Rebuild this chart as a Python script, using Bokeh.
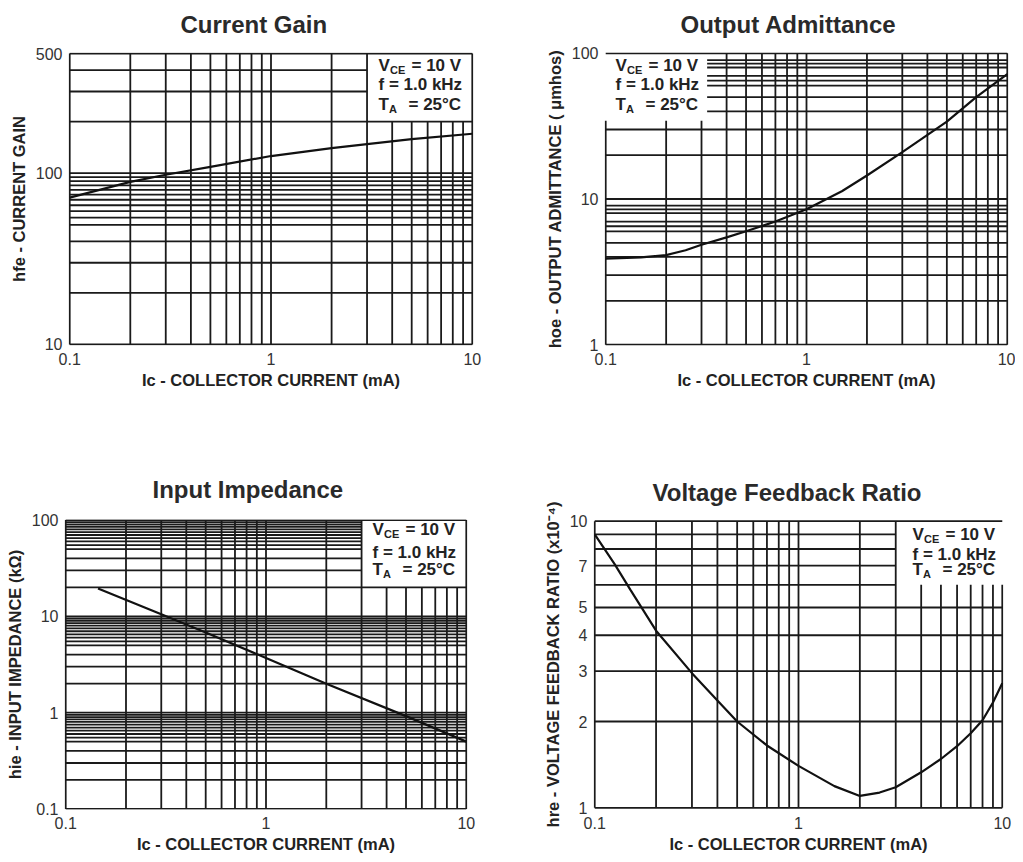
from bokeh.plotting import figure
from bokeh.models import Range1d, FixedTicker, CustomJSTickFormatter, Label, Title
from bokeh.layouts import column, row
from bokeh.embed import file_html
from bokeh.resources import INLINE

# ---------------- data ----------------
ic_ticks = [0.1, 1, 10]
ic_grid = [0.1, 0.2, 0.3, 0.4, 0.5, 0.6, 0.7, 0.8, 0.9, 1, 2, 3, 4, 5, 6, 7, 8, 9, 10]

# Current gain
gain_ic = [0.1, 0.2, 0.3, 0.5, 1, 2, 3, 5, 10]
gain_hfe = [72, 89, 98, 109, 126, 140, 148, 158, 170]
gain_ticks = [10, 100, 500]
gain_grid = [10, 20, 30, 40, 50, 55, 60, 65, 70, 75, 80, 85, 90, 95, 100, 200, 300, 400, 500]

# Output admittance
adm_ic = [0.1, 0.15, 0.2, 0.25, 0.3, 0.4, 0.5, 0.7, 1, 1.5, 2, 3, 5, 7, 10]
adm_hoe = [3.9, 3.97, 4.12, 4.45, 4.85, 5.45, 6.0, 7.0, 8.5, 11.3, 14.5, 21, 34, 50, 72]
adm_ticks = [1, 10, 100]
adm_grid = [1, 2, 3, 4, 5, 6, 6.5, 7, 8, 8.5, 9, 10, 20, 30, 40, 50, 60, 65, 70, 80, 85, 90, 100]

# Input impedance
inp_ic = [0.145, 0.3, 0.5, 1, 2, 5, 10]
inp_hie = [19.5, 10.5, 6.8, 3.7, 2.0, 0.92, 0.5]
inp_ticks = [0.1, 1, 10, 100]
inp_grid = [0.1, 0.2, 0.3, 0.4, 0.5, 0.55, 0.6, 0.65, 0.7, 0.75, 0.8, 0.85, 0.9, 0.95,
            1, 2, 3, 4, 5, 5.5, 6, 6.5, 7, 7.5, 8, 8.5, 9, 9.5,
            10, 20, 30, 40, 50, 55, 60, 65, 70, 75, 80, 85, 90, 95, 100]

# Voltage feedback ratio
fb_ic = [0.1, 0.125, 0.15, 0.2, 0.3, 0.4, 0.5, 0.7, 1, 1.5, 2, 2.5, 3, 4, 5, 6, 7, 8, 9, 10]
fb_hre = [9.0, 7.1, 5.75, 4.15, 2.95, 2.37, 2.0, 1.65, 1.4, 1.19, 1.10, 1.13, 1.18, 1.33,
          1.48, 1.64, 1.82, 2.02, 2.33, 2.72]
fb_ticks = [1, 2, 3, 4, 5, 7, 10]
fb_grid = [1, 2, 3, 4, 5, 6, 7, 8, 9, 10]

# ---------------- style ----------------
FONT = "Liberation Sans"
INK = "#1a1a1a"
PAD = 10 ** 0.006


def make_panel(title, ylabel, xr, yr, yticks, ygrid, vtop, hspan, xs, ys,
               w, h, bl, br, bt, bb, title_offset, title_standoff, spacer):
    p = figure(width=w, height=h, x_axis_type="log", y_axis_type="log",
               x_range=Range1d(xr[0] / PAD, xr[1] * PAD),
               y_range=Range1d(yr[0] / PAD, yr[1] * PAD),
               output_backend="svg", toolbar_location=None,
               min_border_left=bl, min_border_right=br,
               min_border_top=bt, min_border_bottom=bb)
    p.xgrid.visible = False
    p.ygrid.visible = False
    p.outline_line_color = None
    p.background_fill_color = "white"
    p.border_fill_color = "white"

    # small blank spacer next to the frame, then the title above it
    if spacer > 0:
        p.add_layout(Title(text=" ", text_font_size="1px", standoff=spacer,
                           text_color="white"), "above")
    p.add_layout(Title(text=title, text_font=FONT, text_font_size="24px",
                       text_font_style="bold", text_color="#2a2a2a",
                       align="left", offset=title_offset, standoff=title_standoff),
                 "above")

    p.xaxis.ticker = FixedTicker(ticks=ic_ticks, minor_ticks=[])
    p.yaxis.ticker = FixedTicker(ticks=yticks, minor_ticks=[])
    for ax in (p.xaxis[0], p.yaxis[0]):
        ax.axis_line_color = None
        ax.major_tick_line_color = None
        ax.minor_tick_line_color = None
        ax.major_tick_out = 0
        ax.major_tick_in = 0
        ax.minor_tick_out = 0
        ax.minor_tick_in = 0
        ax.major_label_text_font = FONT
        ax.major_label_text_font_size = "16px"
        ax.major_label_text_color = "#333333"
        ax.axis_label_text_font = FONT
        ax.axis_label_text_font_style = "bold"
        ax.axis_label_text_color = "#222222"
        ax.formatter = CustomJSTickFormatter(code="return String(tick);")
    p.xaxis.axis_label = "Ic - COLLECTOR CURRENT (mA)"
    p.xaxis.axis_label_text_font_size = "16.5px"
    p.xaxis.major_label_standoff = 7
    p.xaxis.axis_label_standoff = 3
    p.yaxis.axis_label = ylabel
    p.yaxis.axis_label_text_font_size = "16.5px"
    p.yaxis.major_label_standoff = 6
    p.yaxis.axis_label_standoff = 5

    # grid drawn as segments (with legend cut-outs)
    x0, y0, x1, y1 = [], [], [], []
    for gx in ic_grid:
        x0.append(gx); x1.append(gx); y0.append(yr[0]); y1.append(vtop(gx))
    for gy in ygrid:
        a, b = hspan(gy)
        x0.append(a); x1.append(b); y0.append(gy); y1.append(gy)
    p.segment(x0=x0, y0=y0, x1=x1, y1=y1, line_color=INK, line_width=1.8)

    p.line(xs, ys, line_color="#111111", line_width=2.2)
    return p


def add_conditions(p, x, b1, b2, b3):
    big, small = "17px", "11px"
    items = [("V", x, b1, big), ("CE", x + 11.5, b1 - 4, small), ("= 10 V", x + 33, b1, big),
             ("f = 1.0 kHz", x, b2, big),
             ("T", x, b3, big), ("A", x + 10.5, b3 - 4, small), ("= 25°C", x + 30, b3, big)]
    for t, lx, ly, fs in items:
        p.add_layout(Label(x=lx, y=ly, x_units="screen", y_units="screen", text=t,
                           text_font=FONT, text_font_size=fs, text_font_style="bold",
                           text_color="#222222", text_baseline="alphabetic"))


p1 = make_panel("Current Gain", "hfe - CURRENT GAIN", (0.1, 10), (10, 500),
                gain_ticks, gain_grid,
                lambda x: 200 if 3 < x < 10 else 500,
                lambda y: (0.1, 3) if 200 < y < 500 else (0.1, 10),
                gain_ic, gain_hfe, 520, 455, 68, 47, 52, 110, 112, 12, 6)
add_conditions(p1, 310, 280, 261, 241)

p2 = make_panel("Output Admittance", "hoe - OUTPUT ADMITTANCE ( μmhos)", (0.1, 10), (1, 100),
                adm_ticks, adm_grid,
                lambda x: 34.5 if x < 0.32 else 100,
                lambda y: (0.32, 10) if 34.5 < y < 100 else (0.1, 10),
                adm_ic, adm_hoe, 495, 455, 84, 7, 52, 110, 76, 12, 6)
add_conditions(p2, 11, 280, 261, 241)

p3 = make_panel("Input Impedance", "hie - INPUT IMPEDANCE (kΩ)", (0.1, 10), (0.1, 100),
                inp_ticks, inp_grid,
                lambda x: 20 if 3 < x < 10 else 100,
                lambda y: (0.1, 3) if 20 < y < 100 else (0.1, 10),
                inp_ic, inp_hie, 520, 402, 64, 53, 64, 48, 88, 34, 0)
add_conditions(p3, 308, 280, 257, 240)

p4 = make_panel("Voltage Feedback Ratio", "hre - VOLTAGE FEEDBACK RATIO (x10⁻⁴)", (0.1, 10), (1, 10),
                fb_ticks, fb_grid,
                lambda x: 6 if 3 < x <= 10 else 10,
                lambda y: (0.1, 3) if 6 <= y < 10 else (0.1, 10),
                fb_ic, fb_hre, 495, 402, 73, 12, 64, 48, 59, 28, 0)
add_conditions(p4, 319, 275, 255, 240)

layout = column(row(p1, p2), row(p3, p4))
open("out.html", "w").write(file_html(layout, INLINE))
